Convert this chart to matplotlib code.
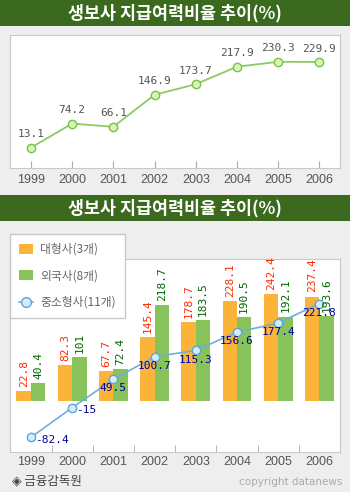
import matplotlib.pyplot as plt
from matplotlib.patches import Rectangle, Patch
from matplotlib.lines import Line2D
import numpy as np

# 데이터
years = ['1999', '2000', '2001', '2002', '2003', '2004', '2005', '2006']
total = [13.1, 74.2, 66.1, 146.9, 173.7, 217.9, 230.3, 229.9]
big = [22.8, 82.3, 67.7, 145.4, 178.7, 228.1, 242.4, 237.4]
foreign = [40.4, 101, 72.4, 218.7, 183.5, 190.5, 192.1, 193.6]
small = [-82.4, -15, 49.5, 100.7, 115.3, 156.6, 177.4, 221.8]
legend_labels = ['대형사(3개)', '외국사(8개)', '중소형사(11개)']
title = '생보사 지급여력비율 추이(%)'

kr = ['Noto Sans CJK KR', 'DejaVu Sans']
tick_font = 'Liberation Sans'
mono = 'DejaVu Sans Mono'

W, H = 350, 492
fig = plt.figure(figsize=(W / 100, H / 100), dpi=100, facecolor='#EEEEEE')

def fx(px):
    return px / W

def fy(py):
    return 1 - py / H

# 제목 막대
for top, bot in [(0, 26), (195, 221)]:
    fig.patches.append(Rectangle((0, fy(bot)), 1, (bot - top) / H, transform=fig.transFigure,
                                 facecolor='#3B691D', edgecolor='none', zorder=0))
    fig.text(0.5, fy((top + bot) / 2), title, color='white', fontsize=12.5, fontweight='bold',
             family=kr, ha='center', va='center')

x = np.arange(len(years))

# 위쪽 차트
ax1 = fig.add_axes([fx(10.3), fy(168), fx(340 - 10.3), (168 - 35) / H])
ax1.set_facecolor('white')
ax1.plot(x, total, color='#8DCB62', lw=1.3, marker='o', ms=6, mfc='#D4F7B8', mec='#7CC04A', mew=1)
for xi, v in zip(x, total):
    ax1.annotate(f'{v}', (xi, v), xytext=(0, 6), textcoords='offset points', ha='center',
                 va='bottom', fontsize=8, family=mono, color='#555555')
ax1.set_xlim(-0.5, 7.5)
ax1.set_ylim(-38, 298)
ax1.set_xticks(x)
ax1.set_xticklabels(years, fontsize=9, family=tick_font, color='#555555')
ax1.tick_params(axis='x', direction='in', length=5, color='#AAAAAA', pad=4)
ax1.set_yticks([])
for s in ax1.spines.values():
    s.set_color('#C8C8C8')

# 아래쪽 차트
ax2 = fig.add_axes([fx(10.3), fy(451.7), fx(340 - 10.3), (451.7 - 259) / H])
ax2.set_facecolor('white')
bw = 0.35
ax2.bar(x - bw / 2, big, width=bw, color='#FBB33A', zorder=2)
ax2.bar(x + bw / 2, foreign, width=bw, color='#88C25A', zorder=2)
for xi, v in zip(x, big):
    ax2.annotate(f'{v}', (xi - bw / 2, v), xytext=(0, 3), textcoords='offset points', ha='center',
                 va='bottom', rotation=90, fontsize=8, family=mono, color='#FF2A00', zorder=4)
for xi, v in zip(x, foreign):
    ax2.annotate(f'{v}', (xi + bw / 2, v), xytext=(0, 3), textcoords='offset points', ha='center',
                 va='bottom', rotation=90, fontsize=8, family=mono, color='#006600', zorder=4)
ax2.plot(x, small, color='#6DB0DB', lw=1.2, marker='o', ms=6, mfc='#D6ECFA', mec='#5DA5D5',
         mew=1, zorder=3)
for xi, v in zip(x, small):
    if v < 0:
        ax2.annotate(f'{v:g}', (xi, v), xytext=(3, -2), textcoords='offset points', ha='left',
                     va='center', fontsize=8, family=mono, color='#000099', zorder=5)
    else:
        ax2.annotate(f'{v}', (xi, v), xytext=(0, -3), textcoords='offset points', ha='center',
                     va='top', fontsize=8, family=mono, color='#000099', zorder=5)
ax2.set_xlim(-0.5, 7.5)
ax2.set_ylim(-115, 323)
ax2.set_xticks(x)
ax2.set_xticklabels(years, fontsize=9, family=tick_font, color='#555555')
ax2.set_xticks(x[:-1] + 0.5, minor=True)
ax2.tick_params(axis='x', which='major', length=0, pad=3)
ax2.tick_params(axis='x', which='minor', direction='in', length=5, color='#AAAAAA')
ax2.set_yticks([])
for s in ax2.spines.values():
    s.set_color('#C8C8C8')

handles = [
    Patch(facecolor='#FBB33A', edgecolor='none'),
    Patch(facecolor='#88C25A', edgecolor='none'),
    Line2D([0], [0], color='#6DB0DB', lw=1.2, marker='o', ms=7, mfc='#D6ECFA', mec='#5DA5D5'),
]
leg = fig.legend(handles, legend_labels, loc='upper left', bbox_to_anchor=(fx(10), fy(234)),
                 borderaxespad=0, frameon=True, fancybox=False, edgecolor='#C8C8C8',
                 facecolor='white', framealpha=1, prop={'family': kr, 'size': 8.5},
                 labelcolor='#666666', handlelength=1.2, handleheight=0.9, labelspacing=1.15,
                 borderpad=0.75, handletextpad=0.6)
leg.get_frame().set_linewidth(1)

# 출처
fig.text(fx(12), fy(481), '◈ 금융감독원', family=kr, fontsize=9, color='#444444', va='center')
fig.text(fx(342), fy(482), 'copyright datanews', family='DejaVu Sans', fontsize=7.5,
         color='#AAAAAA', va='center', ha='right')

fig.savefig('out.png', dpi=100, facecolor=fig.get_facecolor())
